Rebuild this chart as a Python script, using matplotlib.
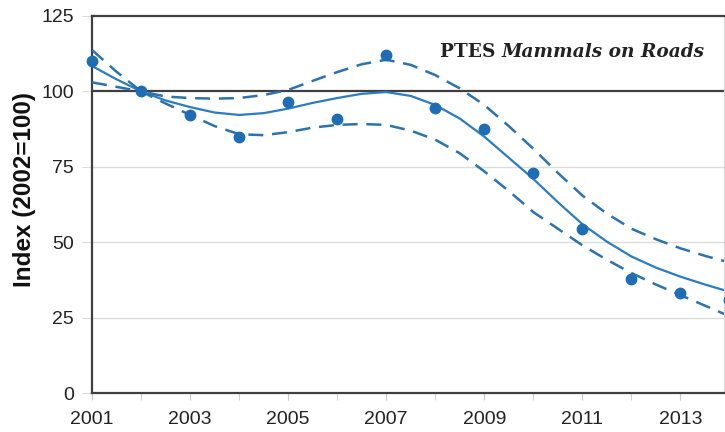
import matplotlib
matplotlib.use("Agg")

from matplotlib import pyplot as plt
from matplotlib.ticker import MultipleLocator

# observed index values
years = [2001, 2002, 2003, 2004, 2005, 2006, 2007, 2008, 2009, 2010, 2011, 2012, 2013, 2014]
index = [110.0, 100.0, 92.2, 85.0, 96.6, 91.0, 112.2, 94.5, 87.5, 73.0, 54.4, 37.8, 33.2, 31.0]

# smoothed trend and confidence limits, read at half-year steps
trend_years = [2001, 2001.5, 2002, 2002.5, 2003, 2003.5, 2004, 2004.5, 2005, 2005.5,
               2006, 2006.5, 2007, 2007.5, 2008, 2008.5, 2009, 2009.5, 2010, 2010.5,
               2011, 2011.5, 2012, 2012.5, 2013, 2013.5, 2014]
trend = [108.4, 104.0, 100.0, 97.0, 94.8, 93.0, 92.2, 92.8, 94.3, 96.2,
         97.8, 99.2, 99.8, 98.5, 95.5, 91.0, 85.0, 78.0, 71.0, 63.3,
         56.0, 50.2, 45.3, 41.6, 38.6, 36.0, 33.6]
upper = [113.7, 106.5, 100.0, 98.3, 97.8, 97.6, 97.8, 98.8, 100.5, 103.5,
         106.4, 109.0, 110.5, 108.8, 105.4, 101.0, 95.5, 88.5, 81.0, 73.0,
         65.5, 59.5, 54.5, 51.0, 48.0, 45.5, 43.3]
lower = [103.0, 101.5, 100.0, 96.0, 92.2, 88.5, 85.8, 85.5, 86.5, 88.0,
         88.9, 89.2, 88.9, 87.0, 84.0, 79.5, 73.5, 67.0, 60.0, 54.5,
         49.0, 44.2, 39.8, 36.0, 32.5, 29.0, 25.5]
major_years = [2001, 2003, 2005, 2007, 2009, 2011, 2013]

BLUE = "#2b7cc2"
DASH = "#2a72b0"
DOT = "#1f6db5"

fig = plt.figure(figsize=(7.25, 4.32), dpi=100)
ax = fig.add_axes([0.127, 0.090, 0.871, 0.873])

ax.plot(trend_years, trend, color=BLUE, lw=1.6, zorder=3)
ax.plot(trend_years, upper, color=DASH, lw=1.8, dashes=(6, 3.5), zorder=3)
ax.plot(trend_years, lower, color=DASH, lw=1.8, dashes=(6, 3.5), zorder=3)
ax.plot(years, index, "o", color=DOT, ms=7.5, zorder=4, clip_on=False)

ax.axhline(100, color="#404040", lw=1.6, zorder=2)
for y in [25, 50, 75]:
    ax.axhline(y, color="#dcdcdc", lw=1.0, zorder=1)

ax.set_xlim(2001, 2013.88)
ax.set_ylim(0, 125)
ax.set_xticks(major_years)
ax.xaxis.set_minor_locator(MultipleLocator(1))
ax.yaxis.set_major_locator(MultipleLocator(25))

ax.tick_params(axis="x", which="both", length=5, color="#c8c8c8", labelsize=14,
               pad=8, labelcolor="#222222")
ax.tick_params(axis="y", length=7, color="#dcdcdc", labelsize=14, pad=6,
               labelcolor="#222222")
for lab in ax.get_xticklabels() + ax.get_yticklabels():
    lab.set_fontfamily("Liberation Sans")

for side in ["left", "bottom", "top"]:
    ax.spines[side].set_color("#404040")
    ax.spines[side].set_linewidth(1.6)
ax.spines["right"].set_color("#d5d5d5")

ax.set_ylabel("Index (2002=100)", fontsize=17.5, fontweight="bold",
              family="Liberation Sans", color="#111111")
ax.yaxis.set_label_coords(-0.089, 0.541)

# title: upright "PTES" followed by italic "Mammals on Roads"
fig.canvas.draw()
renderer = fig.canvas.get_renderer()
part_b = ax.text(0.97, 0.905, "Mammals on Roads", transform=ax.transAxes,
                 ha="right", va="center", fontsize=13.3, fontweight="bold",
                 fontstyle="italic", family="DejaVu Serif", color="#222222")
bb = part_b.get_window_extent(renderer).transformed(ax.transAxes.inverted())
ax.text(bb.x0, 0.905, "PTES ", transform=ax.transAxes, ha="right", va="center",
        fontsize=13.3, fontweight="bold", family="DejaVu Serif", color="#222222")

fig.savefig("out.png", dpi=100)
